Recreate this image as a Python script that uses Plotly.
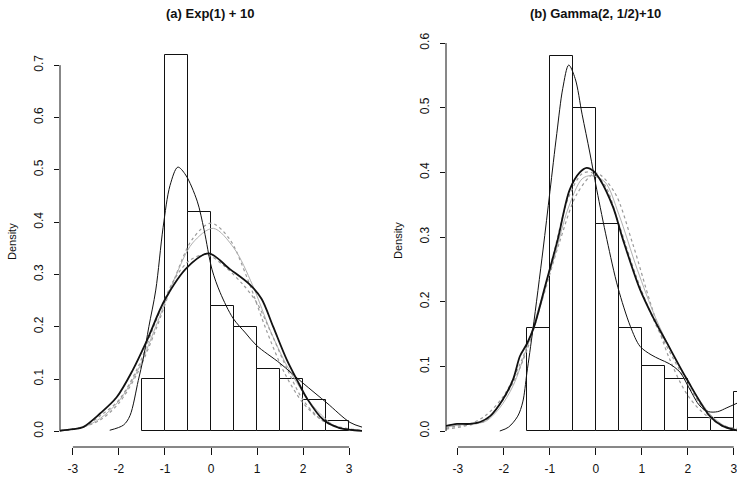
import plotly.graph_objects as go

# ---------------- data ----------------
bin_width = 0.5
left_breaks = [-1.5, -1.0, -0.5, 0.0, 0.5, 1.0, 1.5, 2.0, 2.5]
left_heights = [0.10, 0.72, 0.42, 0.24, 0.20, 0.12, 0.10, 0.06, 0.02]
right_breaks = [-1.5, -1.0, -0.5, 0.0, 0.5, 1.0, 1.5, 2.0, 2.5, 3.0]
right_heights = [0.16, 0.58, 0.50, 0.32, 0.16, 0.10, 0.08, 0.02, 0.02, 0.06]

# Panel (a) curves
a_thin_x = [-2.2, -1.9, -1.76, -1.58, -1.47, -1.35, -1.2, -1.04, -0.89, -0.72, -0.55, -0.3,
            -0.15, 0.02, 0.2, 0.48, 0.75, 0.99, 1.5, 2.0, 2.52, 3.02, 3.28]
a_thin_y = [0.002, 0.012, 0.03, 0.097, 0.14, 0.2, 0.27, 0.39, 0.47, 0.505, 0.49, 0.44,
            0.385, 0.31, 0.265, 0.216, 0.188, 0.164, 0.13, 0.092, 0.054, 0.017, 0.008]
a_thick_x = [-3.28, -3.0, -2.78, -2.41, -2.05, -1.7, -1.39, -1.0, -0.5, -0.05, 0.41, 0.85,
             1.1, 1.35, 1.65, 1.87, 2.09, 2.44, 2.8, 3.28]
a_thick_y = [0.001, 0.004, 0.008, 0.034, 0.065, 0.117, 0.174, 0.252, 0.315, 0.34, 0.31, 0.28,
             0.253, 0.2, 0.136, 0.098, 0.062, 0.022, 0.006, 0.001]
a_norm_x = [-3.28, -2.8, -2.4, -2.0, -1.6, -1.2, -0.8, -0.4, 0.0, 0.4, 0.8, 1.2, 1.6, 2.0, 2.4, 2.8, 3.28]
a_norm_y = [0.002, 0.008, 0.022, 0.054, 0.111, 0.194, 0.29, 0.368, 0.398, 0.368, 0.29, 0.194,
            0.111, 0.054, 0.022, 0.008, 0.002]
a_gray2_x = [-3.28, -2.8, -2.4, -2.0, -1.6, -1.2, -0.8, -0.46, -0.1, 0.3, 0.7, 1.0, 1.28, 1.65, 2.0, 2.4, 2.8, 3.28]
a_gray2_y = [0.002, 0.007, 0.03, 0.06, 0.12, 0.21, 0.29, 0.327, 0.338, 0.315, 0.28, 0.245,
             0.193, 0.12, 0.06, 0.022, 0.006, 0.001]
a_gray3_x = [-3.28, -2.8, -2.4, -2.0, -1.6, -1.2, -0.8, -0.4, 0.05, 0.5, 0.9, 1.3, 1.65, 1.93, 2.3, 2.74, 3.28]
a_gray3_y = [0.002, 0.007, 0.025, 0.058, 0.115, 0.2, 0.29, 0.36, 0.388, 0.35, 0.28, 0.19,
             0.125, 0.084, 0.04, 0.008, 0.001]

# Panel (b) curves
b_thin_x = [-2.09, -1.9, -1.7, -1.59, -1.5, -1.37, -1.15, -1.0, -0.85, -0.72, -0.59, -0.45, -0.3,
            -0.13, 0.02, 0.24, 0.48, 0.75, 0.96, 1.2, 1.39, 1.6, 1.83, 2.04, 2.26, 2.45, 2.65, 2.85, 3.07]
b_thin_y = [0.0, 0.006, 0.023, 0.045, 0.09, 0.157, 0.28, 0.37, 0.46, 0.53, 0.566, 0.545, 0.49,
            0.43, 0.373, 0.296, 0.222, 0.162, 0.131, 0.118, 0.111, 0.104, 0.091, 0.065, 0.039,
            0.03, 0.03, 0.036, 0.043]
b_thick_x = [-3.26, -3.02, -2.74, -2.52, -2.3, -2.02, -1.8, -1.65, -1.5, -1.35, -1.1, -0.83, -0.57,
             -0.35, -0.2, -0.05, 0.09, 0.37, 0.59, 0.96, 1.25, 1.54, 1.98, 2.48, 2.75, 3.07]
b_thick_y = [0.008, 0.011, 0.011, 0.014, 0.023, 0.049, 0.08, 0.116, 0.135, 0.16, 0.225, 0.296,
             0.373, 0.4, 0.407, 0.402, 0.389, 0.347, 0.296, 0.219, 0.175, 0.137, 0.08, 0.023,
             0.008, 0.001]
b_norm_x = [-3.26, -2.8, -2.4, -2.0, -1.6, -1.2, -0.8, -0.4, 0.0, 0.4, 0.8, 1.2, 1.6, 2.0, 2.4, 2.8, 3.07]
b_norm_y = [0.003, 0.009, 0.024, 0.055, 0.112, 0.195, 0.29, 0.368, 0.399, 0.37, 0.29, 0.195,
            0.112, 0.055, 0.024, 0.008, 0.004]
b_gray2_x = [-3.26, -3.0, -2.7, -2.4, -2.1, -1.8, -1.5, -1.2, -0.9, -0.6, -0.3, -0.1, 0.2, 0.5, 0.9,
             1.3, 1.7, 2.1, 2.5, 2.8, 3.07]
b_gray2_y = [0.004, 0.008, 0.01, 0.016, 0.04, 0.075, 0.125, 0.195, 0.28, 0.36, 0.398, 0.4, 0.38,
             0.32, 0.235, 0.165, 0.11, 0.06, 0.02, 0.006, 0.001]
b_gray3_x = [-3.26, -3.0, -2.7, -2.4, -2.1, -1.8, -1.5, -1.2, -0.9, -0.6, -0.3, -0.1, 0.2, 0.5, 0.9,
             1.3, 1.7, 2.1, 2.5, 2.8, 3.07]
b_gray3_y = [0.006, 0.009, 0.011, 0.015, 0.035, 0.07, 0.13, 0.2, 0.27, 0.345, 0.39, 0.395, 0.385,
             0.335, 0.25, 0.175, 0.115, 0.065, 0.025, 0.008, 0.002]

x_ticks = [-3, -2, -1, 0, 1, 2, 3]
x_tick_text = ["-3", "-2", "-1", "0", "1", "2", "3"]
left_y_ticks = [0.0, 0.1, 0.2, 0.3, 0.4, 0.5, 0.6, 0.7]
right_y_ticks = [0.0, 0.1, 0.2, 0.3, 0.4, 0.5, 0.6]
title_a = "(a) Exp(1) + 10"
title_b = "(b) Gamma(2, 1/2)+10"
y_label = "Density"

# ---------------- figure ----------------
W, H = 737, 478
FONT = "Liberation Sans, Arial, Helvetica, sans-serif"
BLACK = "#111111"
GRAY = "#9a9a9a"

fig = go.Figure()


def add_hist(breaks, heights, xa, ya):
    centers = [b + bin_width / 2 for b in breaks]
    fig.add_trace(go.Bar(x=centers, y=heights, width=bin_width, xaxis=xa, yaxis=ya,
                         marker=dict(color="white", line=dict(color=BLACK, width=1)),
                         showlegend=False, hoverinfo="skip"))


def add_curve(x, y, xa, ya, color, width, dash="solid"):
    fig.add_trace(go.Scatter(x=x, y=y, xaxis=xa, yaxis=ya, mode="lines",
                             line=dict(color=color, width=width, dash=dash, shape="spline", smoothing=0.9),
                             showlegend=False, hoverinfo="skip"))


add_hist(left_breaks, left_heights, "x", "y")
add_curve(a_norm_x, a_norm_y, "x", "y", GRAY, 1.2, "dot")
add_curve(a_gray3_x, a_gray3_y, "x", "y", "#b0b0b0", 1.0)
add_curve(a_gray2_x, a_gray2_y, "x", "y", GRAY, 1.2, "dot")
add_curve(a_thin_x, a_thin_y, "x", "y", BLACK, 1.0)
add_curve(a_thick_x, a_thick_y, "x", "y", BLACK, 1.8)

add_hist(right_breaks, right_heights, "x2", "y2")
add_curve(b_norm_x, b_norm_y, "x2", "y2", GRAY, 1.2, "dot")
add_curve(b_gray3_x, b_gray3_y, "x2", "y2", "#b0b0b0", 1.0)
add_curve(b_gray2_x, b_gray2_y, "x2", "y2", GRAY, 1.2, "dot")
add_curve(b_thin_x, b_thin_y, "x2", "y2", BLACK, 1.0)
add_curve(b_thick_x, b_thick_y, "x2", "y2", BLACK, 1.8)

left_xdom = [60 / W, 362 / W]
right_xdom = [446 / W, 1.0]
left_ydom = [(H - 447) / H, (H - 39) / H]
right_ydom = [(H - 447) / H, (H - 41) / H]

xcommon = dict(tickvals=x_ticks, ticktext=x_tick_text, ticks="outside", ticklen=7, tickwidth=1,
               tickcolor=BLACK, showline=False, showgrid=False, zeroline=False,
               tickfont=dict(family=FONT, size=12, color=BLACK), ticklabelstandoff=4,
               ticklabeloverflow="allow")
ycommon = dict(ticks="outside", ticklen=5, tickwidth=1, tickcolor=BLACK, showline=False,
               showgrid=False, zeroline=False, tickformat=".1f", tickangle=-90,
               tickfont=dict(family=FONT, size=12, color=BLACK), ticklabelstandoff=6)

fig.update_layout(
    width=W, height=H, autosize=False,
    margin=dict(l=0, r=0, t=0, b=0, autoexpand=False),
    paper_bgcolor="white", plot_bgcolor="white",
    barmode="overlay", bargap=0,
    xaxis=dict(domain=left_xdom, range=[-3.28, 3.28], anchor="y", **xcommon),
    yaxis=dict(domain=left_ydom, range=[-0.03, 0.75], anchor="x", tickvals=left_y_ticks, **ycommon),
    xaxis2=dict(domain=right_xdom, range=[-3.26, 3.07], anchor="y2", **xcommon),
    yaxis2=dict(domain=right_ydom, range=[-0.0247, 0.6032], anchor="x2", tickvals=right_y_ticks, **ycommon),
)

# R-style axis lines spanning the tick range only
for xa, ya, yt in [("x", "y", left_y_ticks), ("x2", "y2", right_y_ticks)]:
    fig.add_shape(type="line", xref=xa, yref=ya + " domain", x0=min(x_ticks), x1=max(x_ticks),
                  y0=0, y1=0, line=dict(color=BLACK, width=1))
    fig.add_shape(type="line", xref=xa + " domain", yref=ya, x0=0, x1=0,
                  y0=min(yt), y1=max(yt), line=dict(color=BLACK, width=1))

# titles and y labels
fig.add_annotation(text="<b>" + title_a + "</b>", xref="paper", yref="paper", x=211 / W, y=1 - 13 / H,
                   showarrow=False, font=dict(family=FONT, size=13, color=BLACK), xanchor="center", yanchor="middle")
fig.add_annotation(text="<b>" + title_b + "</b>", xref="paper", yref="paper", x=595 / W, y=1 - 13 / H,
                   showarrow=False, font=dict(family=FONT, size=13, color=BLACK), xanchor="center", yanchor="middle")
fig.add_annotation(text=y_label, xref="paper", yref="paper", x=12 / W, y=1 - 241 / H, textangle=-90,
                   showarrow=False, font=dict(family=FONT, size=11, color=BLACK), xanchor="center", yanchor="middle")
fig.add_annotation(text=y_label, xref="paper", yref="paper", x=398 / W, y=1 - 241 / H, textangle=-90,
                   showarrow=False, font=dict(family=FONT, size=11, color=BLACK), xanchor="center", yanchor="middle")

fig.write_html("out.html", config={"displayModeBar": False},
               post_script="document.body.style.margin='0';document.body.style.padding='0';"
                           "document.body.style.overflow='hidden';")
